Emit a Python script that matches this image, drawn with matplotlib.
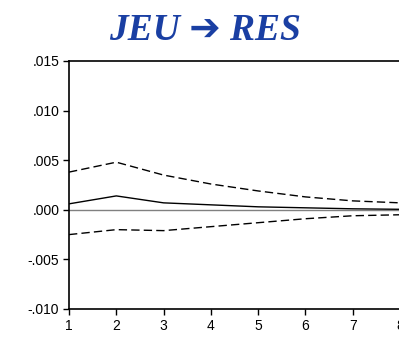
import numpy as np
import matplotlib.pyplot as plt

# impulse response of RES to JEU shock, with +/- 2 s.e. bands
periods = [1, 2, 3, 4, 5, 6, 7, 8, 9, 10]
response = [0.0006, 0.0014, 0.0007, 0.0005, 0.0003, 0.0002, 0.0001, 0.00005, 0.00003, 0.00002]
upper = [0.0038, 0.0048, 0.0035, 0.0026, 0.0019, 0.0013, 0.0009, 0.0007, 0.0006, 0.0005]
lower = [-0.0025, -0.0020, -0.0021, -0.0017, -0.0013, -0.0009, -0.0006, -0.0005, -0.0004, -0.0004]
yticks = [0.015, 0.010, 0.005, 0.000, -0.005, -0.010]
ytick_labels = [".015", ".010", ".005", ".000", "-.005", "-.010"]

fig = plt.figure(figsize=(3.99, 3.42), dpi=100)
# axes run past the right edge of the figure, as in the cropped original
ax = fig.add_axes([69 / 399, 33 / 342, 425.7 / 399, 248 / 342])

ax.axhline(0, color="#808080", lw=1.0)
ax.plot(periods, response, color="black", lw=1.0)
ax.plot(periods, upper, color="black", lw=1.0, ls=(0, (6, 3)))
ax.plot(periods, lower, color="black", lw=1.0, ls=(0, (6, 3)))

ax.set_xlim(1, 10)
ax.set_ylim(-0.010, 0.015)
ax.set_xticks(periods)
ax.set_yticks(yticks)
ax.set_yticklabels(ytick_labels)
ax.tick_params(direction="out", length=4, width=1, labelsize=10, pad=3)
for lab in ax.get_xticklabels() + ax.get_yticklabels():
    lab.set_family("Liberation Sans")
for s in ax.spines.values():
    s.set_linewidth(1.2)

fig.text(0.515, 0.91, "JEU \u2794 RES", ha="center", va="center",
         fontsize=27, fontweight="bold", fontstyle="italic", color="#1a3fa3",
         family=["Liberation Serif", "DejaVu Sans"])

fig.savefig("out.png", dpi=100)
